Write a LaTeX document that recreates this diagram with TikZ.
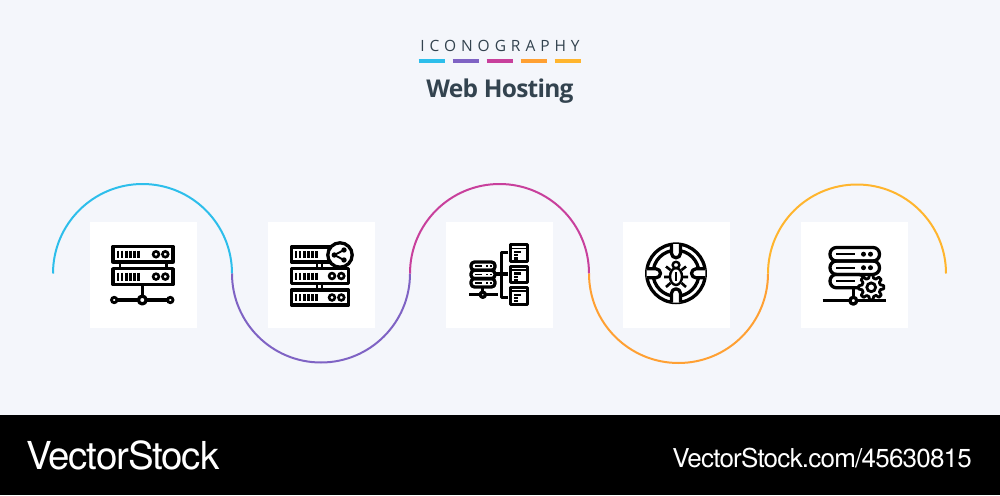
\documentclass[tikz,border=0pt]{standalone}
\usepackage{fontspec}
\setmainfont{Open Sans}
\newfontfamily\titlefont[LetterSpace=-3]{Open Sans}
\newfontfamily\toplabel[LetterSpace=32]{Open Sans}
\newfontfamily\brandfont[LetterSpace=-3]{TeX Gyre Heros}
\definecolor{bgpage}{HTML}{F4F6FB}
\definecolor{ccyan}{HTML}{2DBEEB}
\definecolor{cpurple}{HTML}{7F63C4}
\definecolor{cmagenta}{HTML}{C8409C}
\definecolor{corange}{HTML}{FFA033}
\definecolor{cyellow}{HTML}{FFB52E}
\definecolor{cink}{HTML}{33434F}
\tikzset{
  ico/.style={line width=3.3pt,draw=black,line join=round},
  thin ico/.style={line width=2.6pt,draw=black},
  swirl/.style={line width=2pt},
  dash bar/.style={line width=3.2pt},
}
\newcommand{\srvunit}[6]{%
  \draw[ico] (#1,#2) rectangle (#3,#4);
  \foreach \k in {0,...,5}{\draw[line width=2.7pt] ({#5+\k*4.1},{#2+4}) -- ({#5+\k*4.1},{#4-4});}
  \draw[thin ico] (#6,{(#2+#4)/2}) circle (2.9pt);
  \draw[thin ico] ({#6+9.3},{(#2+#4)/2}) circle (2.9pt);
}
\newcommand{\docunit}[2]{%
  \draw[ico] (#1,#2) rectangle ({#1+17},{#2+16.5});
  \draw[line width=1.8pt] (#1,{#2+3.6}) -- ({#1+17},{#2+3.6});
  \draw[line width=2.2pt] ({#1+3.5},{#2+7.3}) -- ({#1+10.5},{#2+7.3});
  \draw[line width=2.2pt] ({#1+3.5},{#2+10.5}) -- ({#1+7},{#2+10.5});
  \draw[line width=2.2pt] ({#1+3.5},{#2+13.6}) -- ({#1+7},{#2+13.6});
}
\begin{document}
\begin{tikzpicture}[x=1pt,y=-1pt]
\useasboundingbox (0,0) rectangle (1000,495);
\fill[bgpage] (0,0) rectangle (1000,495);
\fill[black] (0,415) rectangle (1000,495);
% header
\node[font=\toplabel\fontsize{15.5}{18}\selectfont,text=cink,anchor=center] (heading) at (500,46) {ICONOGRAPHY};
\draw[dash bar,ccyan] (418.5,61) -- (445,61);
\draw[dash bar,cpurple] (452.5,61) -- (479,61);
\draw[dash bar,cmagenta] (486.5,61) -- (513,61);
\draw[dash bar,corange] (520.5,61) -- (547,61);
\draw[dash bar,cyellow] (554.5,61) -- (581,61);
\node[font=\titlefont\bfseries\fontsize{24.5}{30}\selectfont,text=cink,anchor=center] (title) at (500,91) {Web Hosting};
% footer
\node[font=\brandfont\fontsize{38.5}{40}\selectfont,text=white,anchor=west,inner sep=0pt] (brand) at (26,455) {VectorStock};
\node[font=\brandfont\fontsize{26}{28}\selectfont,text=white,anchor=east,inner sep=0pt] (link) at (972,458) {VectorStock.com/45630815};
% tiles
\foreach \tx in {90,268,446,623,801}{\fill[white] (\tx,222) rectangle ++(107,106);}
% swirl
\draw[swirl,ccyan] (53,273.5) arc[start angle=180,end angle=0,radius=89.5pt];
\draw[swirl,cpurple] (232,273.5) arc[start angle=180,end angle=360,radius=89pt];
\draw[swirl,cmagenta] (410,273.5) arc[start angle=180,end angle=0,radius=89.5pt];
\draw[swirl,corange] (589,273.5) arc[start angle=180,end angle=360,radius=89.5pt];
\draw[swirl,cyellow] (768,273.5) arc[start angle=180,end angle=0,radius=89pt];
% icon 1
\srvunit{113}{246.5}{173}{262}{118}{156}
\srvunit{113}{268.7}{173}{284.5}{118}{156}
\draw[line width=2.6pt] (120,262) -- (120,268.5) (166.5,262) -- (166.5,268.5);
\draw[ico] (142.3,285) -- (142.3,296);
\draw[ico] (117,300) -- (138,300) (146.5,300) -- (167,300);
\draw[ico] (142.3,300) circle (3.9pt);
\draw[thin ico,line width=2.8pt] (114.2,300) circle (2.7pt);
\draw[thin ico,line width=2.8pt] (170.3,300) circle (2.7pt);
% icon 2
\srvunit{291.5}{247}{348.5}{262}{296}{331}
\srvunit{291.5}{268.5}{348.5}{283.5}{296}{332}
\srvunit{291.5}{290}{348.5}{305}{296}{332}
\draw[line width=2.4pt] (317,262.5) -- (317,268) (322,262.5) -- (322,268) (317,284) -- (317,289.5) (322,284) -- (322,289.5);
\draw[ico,fill=white] (340,255) circle (12.2pt);
\draw[line width=1.9pt] (344,250) -- (334.3,255) -- (344,260);
\fill (344,250) circle (2.7pt) (344,260) circle (2.7pt) (334.3,255) circle (2.7pt);
% icon 3
\draw[ico,rounded corners=3.5pt] (471,262) rectangle (495,270.3);
\draw[ico,rounded corners=3.5pt] (471,270.3) rectangle (495,278.6);
\draw[ico,rounded corners=3.5pt] (471,278.6) rectangle (495,287);
\foreach \ry in {266.1,274.4,282.8}{\draw[line width=1.8pt] (475,\ry) -- (482,\ry) (486,\ry) -- (487.5,\ry) (490,\ry) -- (491.5,\ry);}
\draw[ico] (482.8,287) -- (482.8,292);
\draw[ico] (469,294.7) -- (497.5,294.7);
\draw[ico,fill=white] (482.8,294.7) circle (2.6pt);
\draw[ico] (495,274) -- (508,274);
\draw[ico] (508,252.7) -- (501.7,252.7) -- (501.7,297.3) -- (508,297.3);
\docunit{510.5}{244.8}
\docunit{510.5}{266.2}
\docunit{510.5}{287.7}
% icon 4
\draw[ico] (676,273.3) circle (29.3pt);
\draw[ico] (676,273.3) circle (23pt);
\begin{scope}[shift={(676,273.3)}]
  \foreach \ang in {0,90,180,270}{
    \begin{scope}[rotate=\ang]
      \draw[ico,fill=white] (-4.5,-29.3) -- (-4.5,-20) arc[start angle=180,end angle=360,radius=4.5pt] -- (4.5,-29.3);
    \end{scope}
  }
\end{scope}
\draw[line width=2.4pt] (676,276.5) ellipse (6pt and 8.5pt);
\draw[line width=2.4pt] (676,265) ellipse (3.4pt and 3.2pt);
\draw[line width=2pt] (676,272) -- (676,281);
\draw[line width=2.6pt] (670.5,270) -- (666,266.5) (681.5,270) -- (686,266.5)
  (670,277) -- (664,277) (682,277) -- (688,277)
  (670.5,283) -- (666,287) (681.5,283) -- (686,287);
% icon 5
\draw[ico,rounded corners=6.5pt] (830,247.5) rectangle (879.5,261);
\draw[ico,rounded corners=6.5pt] (830,261) rectangle (879.5,274.4);
\draw[ico,rounded corners=6.5pt] (830,274.4) rectangle (865,287.8);
\foreach \ry in {254.2,267.7}{
  \draw[line width=2.4pt] (836,\ry) -- (854.5,\ry);
  \fill (863.5,\ry) circle (2.5pt) (870.5,\ry) circle (2.5pt);
}
\draw[line width=2.4pt] (836,281) -- (854.5,281);
\draw[ico] (822.7,300.7) -- (886,300.7);
\draw[ico] (853.3,287.8) -- (853.3,297);
\draw[ico,fill=white] (853.3,300.7) circle (3.4pt);
\draw[line width=2.8pt,fill=white,line join=round]
  plot[samples at={0,...,47},variable=\t]
  ({871.2+(mod(\t,6)<3?12.6:9.4)*cos(\t*7.5-8)},{287.3+(mod(\t,6)<3?12.6:9.4)*sin(\t*7.5-8)}) -- cycle;
\draw[line width=2.8pt] (871.2,287.3) circle (4.4pt);
\end{tikzpicture}
\end{document}
